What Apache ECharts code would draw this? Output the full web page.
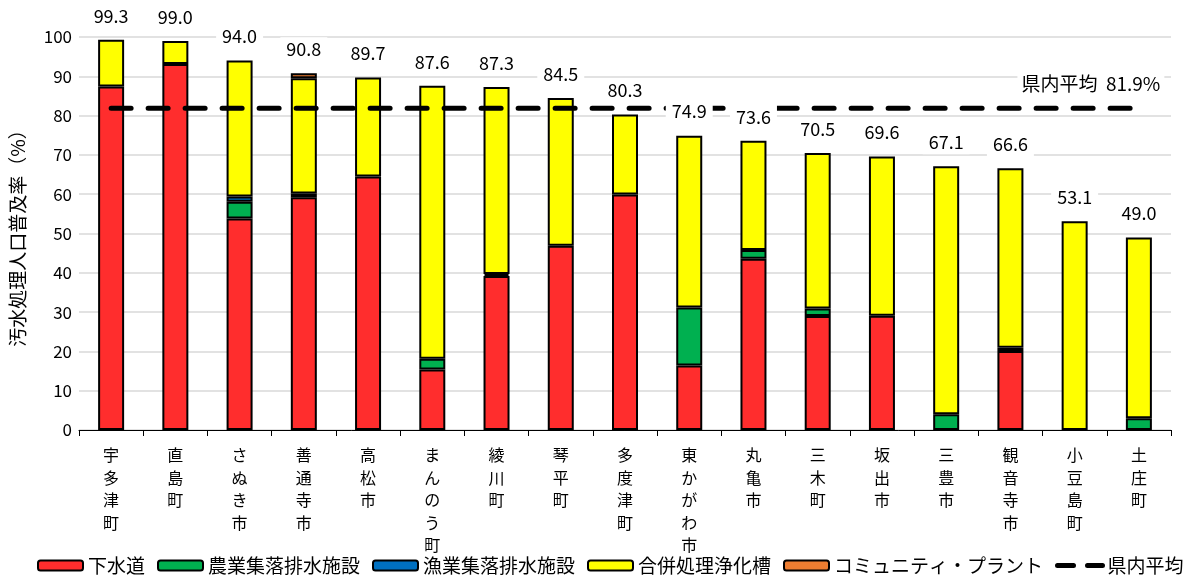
<!DOCTYPE html>
<html><head><meta charset="utf-8">
<script src="https://cdn.jsdelivr.net/npm/echarts@6/dist/echarts.min.js"></script>
<style>html,body{margin:0;padding:0;background:#fff}#c{width:1195px;height:580px}</style>
</head><body><div id="c"></div>
<script>
var categories = ['宇多津町','直島町','さぬき市','善通寺市','高松市','まんのう町','綾川町','琴平町','多度津町','東かがわ市','丸亀市','三木町','坂出市','三豊市','観音寺市','小豆島町','土庄町'];
var sewer      = [87.4, 93.1, 53.8, 59.2, 64.5, 15.4, 39.2, 46.9, 59.9, 16.4, 43.6, 29.0, 29.1, 0, 20.1, 0, 0];
var agri       = [0, 0, 4.3, 1.0, 0, 2.7, 0.5, 0, 0, 14.8, 2.2, 1.9, 0, 4.0, 0.8, 0, 3.0];
var fishery    = [0, 0, 1.3, 0, 0, 0, 0, 0, 0, 0, 0, 0, 0, 0, 0, 0, 0];
var septic     = [11.9, 5.9, 34.6, 29.3, 25.2, 69.5, 47.6, 37.6, 20.4, 43.7, 27.8, 39.6, 40.5, 63.1, 45.7, 53.1, 46.0];
var community  = [0, 0, 0, 1.3, 0, 0, 0, 0, 0, 0, 0, 0, 0, 0, 0, 0, 0];
var totals     = [99.3, 99.0, 94.0, 90.8, 89.7, 87.6, 87.3, 84.5, 80.3, 74.9, 73.6, 70.5, 69.6, 67.1, 66.6, 53.1, 49.0];
var prefAvg    = 81.9;
var yTicks     = [0, 10, 20, 30, 40, 50, 60, 70, 80, 90, 100];

var FONT = '"Noto Sans CJK JP", "Noto Sans", sans-serif';
function nz(a){ return a.map(function(v){ return v === 0 ? null : v; }); }
function barSeries(name, data, color){
  return { name: name, type: 'bar', stack: 'total', barWidth: 26, data: nz(data), z: 2,
    itemStyle: { color: color, borderColor: '#000', borderWidth: 2 } };
}
var avgLine = categories.map(function(){ return prefAvg; });
var lastCat = categories[categories.length - 1];

var chart = echarts.init(document.getElementById('c'));
chart.setOption({
  animation: false,
  textStyle: { fontFamily: FONT },
  grid: { left: 79, right: 24, top: 37, bottom: 150 },
  legend: {
    bottom: 0, left: 32, width: 1163, itemWidth: 45, itemHeight: 10, itemGap: 12,
    textStyle: { fontSize: 19, color: '#000', fontFamily: FONT },
    data: ['下水道','農業集落排水施設','漁業集落排水施設','合併処理浄化槽','コミュニティ・プラント',
      { name: '県内平均', itemStyle: { color: 'rgba(0,0,0,0)', borderWidth: 0, opacity: 0 },
        lineStyle: { width: 5, color: '#000', type: [16, 14], cap: 'round' } }]
  },
  xAxis: {
    type: 'category', data: categories,
    axisLine: { lineStyle: { color: '#000', width: 1 } },
    axisTick: { show: true, length: 6, lineStyle: { color: '#000' } },
    axisLabel: { interval: 0, margin: 14, fontSize: 16, lineHeight: 22.5, color: '#000', fontFamily: FONT,
      formatter: function(v){ return v.split('').join('\n'); } }
  },
  yAxis: {
    type: 'value', min: yTicks[0], max: yTicks[yTicks.length-1], interval: 10,
    name: '汚水処理人口普及率（%）', nameLocation: 'middle', nameRotate: 90, nameGap: 52,
    nameTextStyle: { fontSize: 19, color: '#000', fontFamily: FONT },
    axisLine: { show: false }, axisTick: { show: false },
    axisLabel: { fontSize: 17, color: '#000', margin: 7, fontFamily: FONT },
    splitLine: { lineStyle: { color: '#d9d9d9', width: 1.5 } }
  },
  series: [
    barSeries('下水道', sewer, '#FF2D2D'),
    barSeries('農業集落排水施設', agri, '#00B050'),
    barSeries('漁業集落排水施設', fishery, '#0070C0'),
    barSeries('合併処理浄化槽', septic, '#FFFF00'),
    barSeries('コミュニティ・プラント', community, '#ED7D31'),
    { name: '県内平均', type: 'line', data: avgLine, symbol: 'none', z: 3,
      lineStyle: { color: '#000', width: 5, type: [20, 17], cap: 'round' },
      itemStyle: { color: '#000' } },
    { name: 'totals', type: 'scatter', symbolSize: 0, data: totals, zlevel: 1,
      itemStyle: { opacity: 1, color: '#fff' },
      label: { show: true, position: 'top', distance: 12, fontSize: 18, color: '#000', fontFamily: FONT, opacity: 1,
        backgroundColor: '#fff', padding: [3, 6], formatter: function(p){ return p.value.toFixed(1); } } },
    { name: 'avgLabel', type: 'scatter', symbolSize: 0, zlevel: 1,
      data: [[lastCat, prefAvg]],
      itemStyle: { opacity: 1, color: '#fff' },
      label: { show: true, position: 'top', distance: 13, offset: [-48, 0], fontSize: 19, color: '#000', fontFamily: FONT, opacity: 1,
        backgroundColor: '#fff', padding: [2, 4], formatter: '県内平均  ' + prefAvg.toFixed(1) + '%' } }
  ]
});
</script></body></html>
